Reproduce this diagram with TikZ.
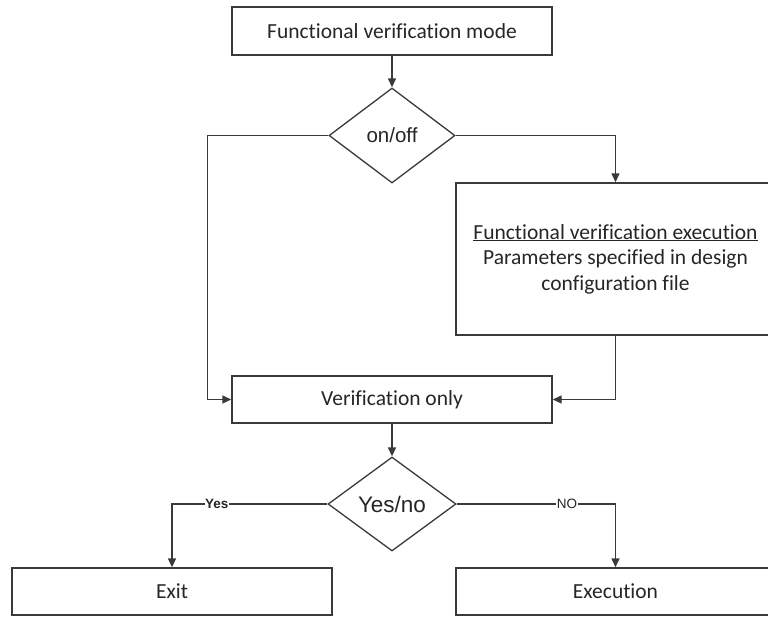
\documentclass[tikz,border=0pt]{standalone}
\usepackage{fontspec}
\setmainfont[Ligatures=NoCommon]{Carlito}
\newfontfamily\arialf{Liberation Sans}
\usetikzlibrary{shapes.geometric,arrows.meta}

\definecolor{linegray}{HTML}{3A3A3A}
\definecolor{textgray}{HTML}{262626}

\tikzset{
  procbox/.style={draw=linegray, line width=1.4pt, fill=white, rectangle,
    inner sep=0pt, text=textgray, font=\fontsize{21.5}{25.5}\selectfont, align=center},
  decision/.style={draw=linegray, line width=1.3pt, fill=white, diamond,
    inner sep=0pt, text=textgray},
  conn/.style={draw=linegray, line width=1.4pt},
  arr/.style={conn, -{Triangle[length=9pt,width=8pt]}},
  edgelabel/.style={fill=white, inner sep=0.5pt, text=textgray,
    font=\arialf\fontsize{13.5}{15}\selectfont},
}

\begin{document}
\begin{tikzpicture}[x=1pt, y=-1pt]
  \useasboundingbox (0,0) rectangle (768,616);

  % process boxes
  \node[procbox, minimum width=320pt, minimum height=48pt] (mode) at (392,31)
    {Functional verification mode};
  \node[procbox, minimum width=319pt, minimum height=152pt] (fvexec) at (615.5,259)
    {\underline{Functional verification execution}\\
     Parameters specified in design\\configuration file};
  \node[procbox, minimum width=320pt, minimum height=47pt] (veronly) at (392,399.5)
    {Verification only};
  \node[procbox, minimum width=320pt, minimum height=47pt] (exit) at (172,591.5)
    {Exit};
  \node[procbox, minimum width=319pt, minimum height=47pt] (execution) at (615.5,591.5)
    {Execution};

  % decisions
  \node[decision, minimum width=126pt, minimum height=95pt,
        font=\arialf\fontsize{20.5}{24}\selectfont] (onoff) at (392,135.5) {on/off};
  \node[decision, minimum width=128pt, minimum height=94pt,
        font=\arialf\fontsize{22.5}{26}\selectfont] (yesno) at (392,504) {Yes/no};

  % bend point of the bypass line
  \coordinate (bypass) at (207.5,135.5);

  % connectors
  \draw[arr] (mode.south) -- (onoff.north);
  \draw[arr] (onoff.west) -- (bypass) |- (veronly.west);
  \draw[arr] (onoff.east) -| (fvexec.north);
  \draw[arr] (fvexec.south) |- (veronly.east);
  \draw[arr] (veronly.south) -- (yesno.north);
  \draw[arr] (yesno.west) -| node[edgelabel, pos=0.356] {\bfseries Yes} (exit.north);
  \draw[arr] (yesno.east) -| node[edgelabel, pos=0.347] {NO} (execution.north);
\end{tikzpicture}
\end{document}
